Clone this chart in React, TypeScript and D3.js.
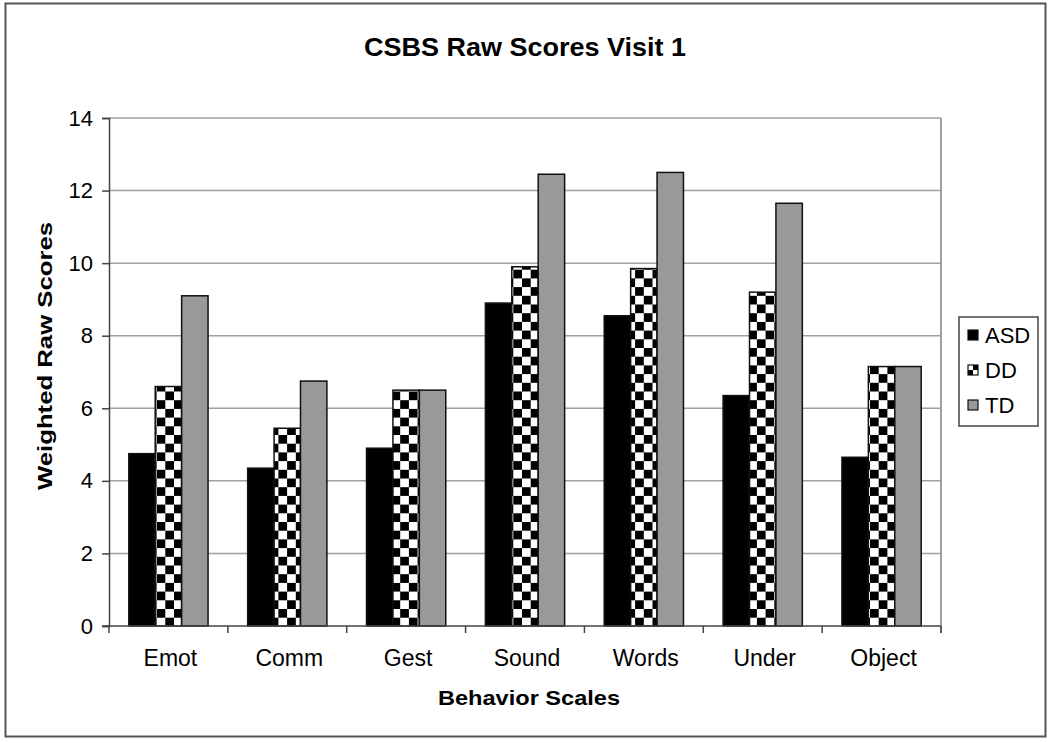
import React, { useEffect, useRef } from 'react';
import * as d3 from 'd3';

const categories = ['Emot', 'Comm', 'Gest', 'Sound', 'Words', 'Under', 'Object'];
const seriesNames = ['ASD', 'DD', 'TD'];
const asd = [4.75, 4.35, 4.9, 8.9, 8.55, 6.35, 4.65];
const dd = [6.6, 5.45, 6.5, 9.9, 9.85, 9.2, 7.15];
const td = [9.1, 6.75, 6.5, 12.45, 12.5, 11.65, 7.15];
const yTicks = [0, 2, 4, 6, 8, 10, 12, 14];

const fills = ['#000000', 'url(#checker)', '#999999'];

export default function App() {
  const ref = useRef<SVGSVGElement>(null);

  useEffect(() => {
    const svg = d3.select(ref.current);
    svg.selectAll('*').remove();
    const W = 1050, H = 743;
    const margin = { top: 118, left: 109, right: 1050 - 941, bottom: 743 - 626 };
    const font = 'Liberation Sans, Arial, sans-serif';

    // pattern
    const defs = svg.append('defs');
    const pat = defs.append('pattern')
      .attr('id', 'checker')
      .attr('patternUnits', 'userSpaceOnUse')
      .attr('width', 17.4).attr('height', 17.4);
    pat.append('rect').attr('width', 17.4).attr('height', 17.4).attr('fill', '#fff');
    pat.append('rect').attr('width', 8.7).attr('height', 8.7).attr('fill', '#000');
    pat.append('rect').attr('x', 8.7).attr('y', 8.7).attr('width', 8.7).attr('height', 8.7).attr('fill', '#000');

    const legPat = defs.append('pattern')
      .attr('id', 'checkerSmall')
      .attr('patternUnits', 'userSpaceOnUse')
      .attr('x', 968).attr('y', 0)
      .attr('width', 10).attr('height', 10);
    legPat.append('rect').attr('width', 10).attr('height', 10).attr('fill', '#fff');
    legPat.append('rect').attr('width', 5).attr('height', 5).attr('fill', '#000');
    legPat.append('rect').attr('x', 5).attr('y', 5).attr('width', 5).attr('height', 5).attr('fill', '#000');

    // outer frame
    svg.append('rect').attr('x', 5.5).attr('y', 3.5).attr('width', 1040).attr('height', 733)
      .attr('fill', '#fff').attr('stroke', '#555').attr('stroke-width', 2);

    const x0 = d3.scaleBand().domain(categories).range([margin.left, W - margin.right]).paddingInner(1.5 / 4.5).paddingOuter(0.75 / 4.5);
    const x1 = d3.scaleBand().domain(seriesNames).range([0, x0.bandwidth()]);
    const y = d3.scaleLinear().domain([0, 14]).range([H - margin.bottom, margin.top]);

    const catStep = (W - margin.left - margin.right) / categories.length;

    // gridlines
    svg.append('g').selectAll('line').data(yTicks.slice(1)).join('line')
      .attr('x1', margin.left).attr('x2', W - margin.right)
      .attr('y1', d => y(d)).attr('y2', d => y(d))
      .attr('stroke', '#a0a0a0').attr('stroke-width', 1.5);
    // right border
    svg.append('line').attr('x1', W - margin.right).attr('x2', W - margin.right)
      .attr('y1', y(14)).attr('y2', y(0) + 7).attr('stroke', '#a0a0a0').attr('stroke-width', 2);

    // bars
    const series = [asd, dd, td];
    series.forEach((vals, si) => {
      svg.append('g').selectAll('rect').data(vals).join('rect')
        .attr('x', (d, i) => (x0(categories[i]) as number) + (x1(seriesNames[si]) as number))
        .attr('y', d => y(d))
        .attr('width', x1.bandwidth())
        .attr('height', d => y(0) - y(d))
        .attr('fill', fills[si])
        .attr('stroke', '#111').attr('stroke-width', 1.5);
    });

    // axes
    const yAxis = svg.append('g').attr('transform', `translate(${margin.left},0)`)
      .call(d3.axisLeft(y).tickValues(yTicks).tickSize(7).tickPadding(9));
    yAxis.select('.domain').attr('stroke', '#444').attr('stroke-width', 1.5);
    yAxis.selectAll('line').attr('stroke', '#444').attr('stroke-width', 1.5);
    yAxis.selectAll('text').attr('font-family', font).attr('font-size', 22).attr('fill', '#000');

    const g = svg.append('g');
    g.append('line').attr('x1', margin.left - 7).attr('x2', W - margin.right)
      .attr('y1', y(0)).attr('y2', y(0)).attr('stroke', '#444').attr('stroke-width', 1.5);
    g.selectAll('line.tk').data(d3.range(categories.length + 1)).join('line')
      .attr('class', 'tk')
      .attr('x1', i => margin.left + i * catStep).attr('x2', i => margin.left + i * catStep)
      .attr('y1', y(0)).attr('y2', y(0) + 7).attr('stroke', '#444').attr('stroke-width', 1.5);
    g.selectAll('text').data(categories).join('text')
      .attr('x', d => (x0(d) as number) + x0.bandwidth() / 2 + 2)
      .attr('y', 666)
      .attr('text-anchor', 'middle')
      .attr('font-family', font).attr('font-size', 23)
      .text(d => d);

    // titles
    svg.append('text').attr('x', 525).attr('y', 56).attr('text-anchor', 'middle')
      .attr('font-family', font).attr('font-size', 25).attr('font-weight', 'bold')
      .attr('textLength', 322).attr('lengthAdjust', 'spacingAndGlyphs')
      .text('CSBS Raw Scores Visit 1');
    svg.append('text').attr('x', 529).attr('y', 705).attr('text-anchor', 'middle')
      .attr('font-family', font).attr('font-size', 21).attr('font-weight', 'bold')
      .attr('textLength', 182).attr('lengthAdjust', 'spacingAndGlyphs')
      .text('Behavior Scales');
    svg.append('text').attr('transform', `translate(52,356) rotate(-90)`).attr('text-anchor', 'middle')
      .attr('font-family', font).attr('font-size', 21).attr('font-weight', 'bold')
      .attr('textLength', 268).attr('lengthAdjust', 'spacingAndGlyphs')
      .text('Weighted Raw Scores');

    // legend
    const leg = svg.append('g');
    leg.append('rect').attr('x', 959).attr('y', 317).attr('width', 79).attr('height', 109)
      .attr('fill', '#fff').attr('stroke', '#444').attr('stroke-width', 1.5);
    const legFills = ['#000', 'url(#checkerSmall)', '#999'];
    seriesNames.forEach((s, i) => {
      const cy = 335 + i * 35;
      leg.append('rect').attr('x', 968).attr('y', cy - 5).attr('width', 10).attr('height', 10)
        .attr('fill', legFills[i]).attr('stroke', '#111').attr('stroke-width', 1.2);
      leg.append('text').attr('x', 985).attr('y', cy + 8)
        .attr('font-family', font).attr('font-size', 22).text(s);
    });
  }, []);

  return (
    <svg ref={ref} width={1050} height={743} style={{ position: 'absolute', left: 0, top: 0 }} />
  );
}
